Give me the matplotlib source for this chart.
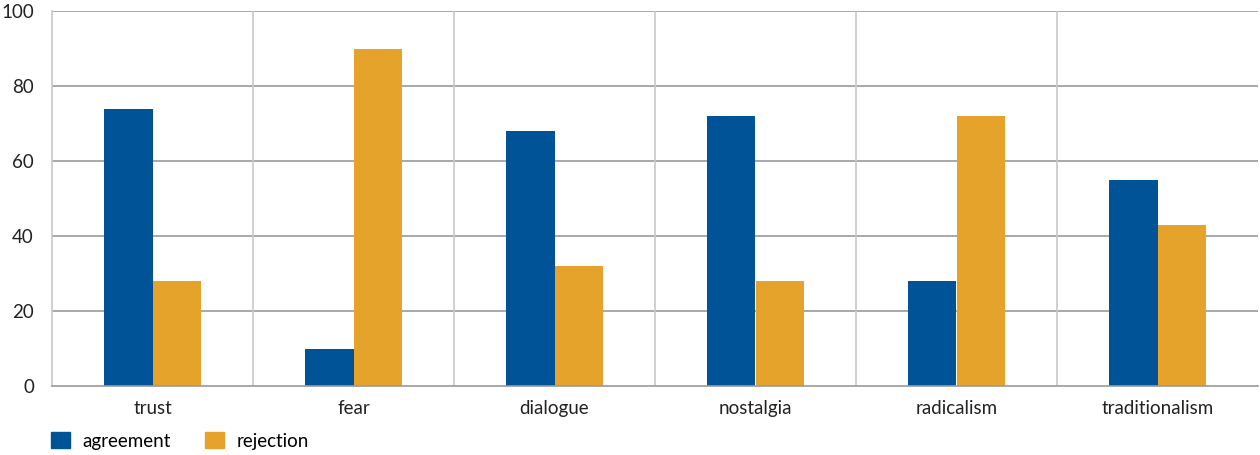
import numpy as np
import matplotlib
matplotlib.use('Agg')
import matplotlib.pyplot as plt
from matplotlib.patches import Patch

plt.rcParams['font.family'] = ['Lato', 'DejaVu Sans']

categories = ['trust', 'fear', 'dialogue', 'nostalgia', 'radicalism', 'traditionalism']
agreement = [74, 10, 68, 72, 28, 55]
rejection = [28, 90, 32, 28, 72, 43]
series_names = ['agreement', 'rejection']
colors = ['#005397', '#E6A32C']


def main():
    fig = plt.figure(figsize=(12.6, 4.55), dpi=100)
    ax = fig.add_axes([52 / 1260, 1 - 386 / 455, (1258 - 52) / 1260, (386 - 11) / 455])

    x = np.arange(len(categories))
    w = 0.243
    ax.bar(x - w / 2, agreement, w, color=colors[0], zorder=3)
    ax.bar(x + w / 2, rejection, w, color=colors[1], zorder=3)

    ax.set_xlim(-0.5, len(categories) - 0.5)
    ax.set_ylim(0, 100)
    ax.set_yticks(range(0, 101, 20))
    ax.set_xticks(x)
    ax.set_xticklabels(categories)

    for yv in range(20, 101, 20):
        ax.axhline(yv, color='#9a9a9a', lw=1.2, zorder=1)
    for xv in np.arange(0.5, len(categories) - 0.5):
        ax.axvline(xv, color='#c8c8c8', lw=1.2, zorder=1)

    for s in ['top', 'right']:
        ax.spines[s].set_visible(False)
    ax.spines['left'].set_color('#c8c8c8')
    ax.spines['left'].set_linewidth(1.2)
    ax.spines['bottom'].set_color('#9a9a9a')
    ax.spines['bottom'].set_linewidth(1.2)
    ax.spines['bottom'].set_zorder(4)

    ax.tick_params(axis='both', length=0, labelsize=13.5, colors='#222222')
    ax.tick_params(axis='y', pad=13)
    ax.tick_params(axis='x', pad=10)

    handles = [Patch(color=c, label=n) for c, n in zip(colors, series_names)]
    fig.legend(handles=handles, loc='lower left', bbox_to_anchor=(0.027, -0.025), ncol=2,
               frameon=False, fontsize=13.5, handlelength=1.0, handleheight=1.0,
               handletextpad=0.7, columnspacing=1.8)

    fig.savefig('out.png', dpi=100)


if __name__ == '__main__':
    main()
